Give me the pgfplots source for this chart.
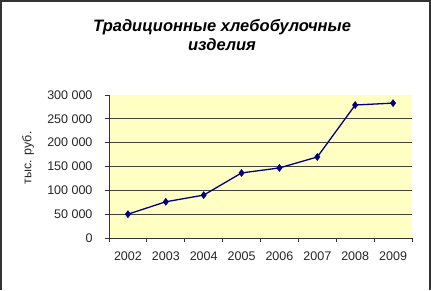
\documentclass[border=0pt]{standalone}
\usepackage{fontspec}
\setmainfont{Liberation Sans}
\usepackage{pgfplots}
\pgfplotsset{compat=1.18}
\definecolor{bgy}{HTML}{FFFFC4}
\definecolor{navy}{HTML}{000080}
\begin{document}
\begin{tikzpicture}[x=1pt,y=1pt]
\useasboundingbox (0,0) rectangle (431,290);
\draw[line width=1.6pt,black!80] (0.8,0)--(0.8,289.2)--(430.2,289.2)--(430.2,0);
\node[font=\fontsize{16.5}{19.5}\selectfont\bfseries\itshape,align=center] at (222,255) {Традиционные хлебобулочные\\изделия};
\begin{axis}[
  at={(109pt,52pt)}, anchor=south west,
  scale only axis, width=303pt, height=143pt,
  xmin=0.5, xmax=8.5, ymin=0, ymax=300000,
  scaled y ticks=false,
  axis x line*=bottom, axis y line*=left,
  axis line style={black!80, line width=0.8pt, -},
  axis background/.style={fill=bgy},
  xtick={1,...,8},
  xticklabels={2002,2003,2004,2005,2006,2007,2008,2009},
  major x tick style={draw=none},
  minor xtick={0.5,1.5,...,8.5},
  minor x tick style={black!80, line width=0.8pt},
  minor tick length=4pt,
  ytick={0,50000,...,250000},
  yticklabels={0,50 000,100 000,150 000,200 000,250 000},
  extra y ticks={300000},
  extra y tick labels={300 000},
  extra y tick style={grid=none},
  ymajorgrids, major grid style={black!75, line width=0.7pt},
  y tick style={black!80, line width=0.8pt},
  major tick length=4pt,
  tick align=outside,
  ticklabel style={font=\fontsize{12.5}{14}\selectfont, text=black!85},
  xticklabel style={yshift=-6pt},
  yticklabel style={xshift=-9pt},
  ylabel={тыс. руб.},
  every axis y label/.style={at={(-81pt,0.56)}, rotate=90, anchor=center, font=\fontsize{12.5}{14}\selectfont, text=black!85},
  clip=false,
]
\addplot[navy, line width=1.3pt, mark=diamond*, mark size=3.6pt, mark options={fill=navy, draw=navy, line width=0.4pt}]
coordinates {(1,50000)(2,76000)(3,90000)(4,136500)(5,147000)(6,170000)(7,279000)(8,283000)};
\end{axis}
\end{tikzpicture}
\end{document}
